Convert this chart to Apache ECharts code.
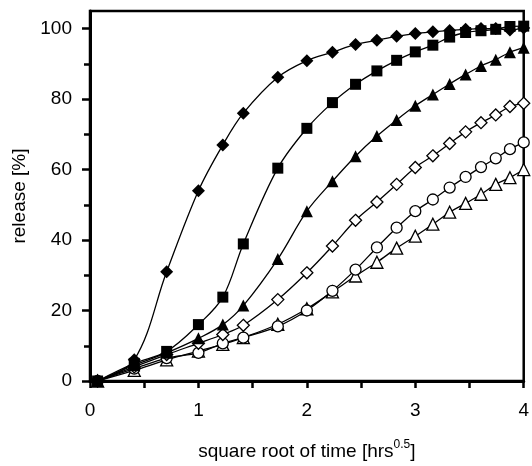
<!DOCTYPE html>
<html>
<head>
<meta charset="utf-8">
<title>release vs square root of time</title>
<script src="https://cdn.jsdelivr.net/npm/echarts@6/dist/echarts.min.js"></script>
<style>
  html, body { margin: 0; padding: 0; background: #fff; }
  #chart { width: 532px; height: 466px; }
</style>
</head>
<body>
<div id="chart"></div>
<script>
// sampling points on the square-root-of-time axis [hrs^0.5]
const sqrtTime = [0.07, 0.408, 0.707, 1.0, 1.225, 1.414, 1.732, 2.0, 2.236, 2.449,
                  2.646, 2.828, 3.0, 3.162, 3.317, 3.464, 3.606, 3.742, 3.873, 4.0];

// cumulative release [%] for each formulation
const filledDiamond = [0, 6, 31, 54, 67, 76, 86.2, 90.9, 93.3, 95.5,
                       96.7, 97.8, 98.6, 99.1, 99.5, 99.8, 100, 100, 99.6, 100.2];
const filledSquare  = [0, 5, 8.4, 16, 23.8, 38.9, 60.4, 71.7, 79, 84.2,
                       88, 91, 93.4, 95.3, 97.6, 98.9, 99.4, 99.8, 100.6, 100.7];
const filledTriangle = [0, 4.5, 8, 12.1, 16, 21.4, 34.6, 48.2, 56.7, 63.8,
                        69.5, 74.1, 78.1, 81.3, 84.3, 87, 89.4, 91.2, 93.3, 94.6];
const openDiamond   = [0, 4, 7.5, 10.7, 13.2, 15.8, 23.1, 30.7, 38.3, 45.6,
                       50.8, 55.8, 60.6, 63.9, 67.4, 70.7, 73.3, 75.5, 77.9, 78.8];
const openCircle    = [0, 3.5, 6.5, 8, 10.7, 12.3, 15.5, 20, 25.6, 31.6,
                       37.9, 43.5, 48.2, 51.5, 54.9, 57.9, 60.7, 63.2, 65.8, 67.7];
const openTriangle  = [0, 3, 6, 8.5, 10.4, 12.3, 16.1, 20.5, 25.3, 29.8,
                       33.7, 37.7, 41.1, 44.5, 47.9, 50.4, 53, 55.8, 57.7, 60];

// axis ticks and labels
const xLabels = [0, 1, 2, 3, 4];
const xTicks = [0, 0.5, 1, 1.5, 2, 2.5, 3, 3.5, 4];
const yLabels = [0, 20, 40, 60, 80, 100];
const yMinorTicks = [10, 30, 50, 70, 90];

const FONT = '"Liberation Sans", Arial, Helvetica, sans-serif';

function pairs(ys) {
  return sqrtTime.map((x, i) => [x, ys[i]]);
}

function makeSeries(ys, symbol, size, filled, z) {
  return {
    type: 'line',
    data: pairs(ys),
    smooth: 0.35,
    symbol: symbol,
    symbolSize: size,
    showAllSymbol: true,
    z: z,
    lineStyle: { color: '#000', width: 1.3 },
    itemStyle: {
      color: filled ? '#000' : '#fff',
      borderColor: '#000',
      borderWidth: filled ? 0 : 1.3
    },
    emphasis: { disabled: true },
    animation: false
  };
}

const chart = echarts.init(document.getElementById('chart'), null, { renderer: 'canvas' });

chart.setOption({
  animation: false,
  backgroundColor: '#fff',
  grid: {
    left: 90, right: 3.5, top: 11, bottom: 79.3,
    show: true, borderColor: '#000', borderWidth: 2.5,
    containLabel: false
  },
  xAxis: {
    type: 'value',
    min: 0, max: 4, interval: 1,
    name: '{t|square root of time [hrs}{s|0.5}{t|]}',
    nameLocation: 'middle',
    nameGap: 58,
    nameTextStyle: {
      rich: {
        t: { fontFamily: FONT, fontSize: 19, color: '#000', verticalAlign: 'bottom' },
        s: { fontFamily: FONT, fontSize: 12, color: '#000', verticalAlign: 'top', padding: [0, 0, 10, 0] }
      }
    },
    axisLine: { show: true, onZero: false, lineStyle: { color: '#000', width: 3 } },
    axisTick: { show: true, inside: false, length: 7, customValues: xTicks,
                lineStyle: { color: '#000', width: 2.5 } },
    axisLabel: { customValues: xLabels, margin: 20, fontFamily: FONT, fontSize: 19, color: '#000' },
    splitLine: { show: false }
  },
  yAxis: [
    {
      type: 'value',
      min: 0, max: 105, interval: 20,
      name: 'release [%]',
      nameLocation: 'middle',
      nameGap: 55,
      nameRotate: 90,
      nameTextStyle: { fontFamily: FONT, fontSize: 19, color: '#000' },
      axisLine: { show: true, onZero: false, lineStyle: { color: '#000', width: 3 } },
      axisTick: { show: true, inside: false, length: 8, customValues: yLabels,
                  lineStyle: { color: '#000', width: 2.5 } },
      axisLabel: { customValues: yLabels, margin: 18, fontFamily: FONT, fontSize: 19, color: '#000' },
      splitLine: { show: false }
    },
    {
      type: 'value',
      position: 'left',
      min: 0, max: 105, interval: 20,
      axisLine: { show: false },
      axisTick: { show: true, inside: false, length: 6, customValues: yMinorTicks,
                  lineStyle: { color: '#000', width: 2.5 } },
      axisLabel: { show: false },
      splitLine: { show: false }
    }
  ],
  series: [
    makeSeries(openTriangle, 'triangle', 12, false, 2),
    makeSeries(openCircle, 'circle', 11, false, 3),
    makeSeries(openDiamond, 'diamond', 12, false, 4),
    makeSeries(filledTriangle, 'triangle', 12, true, 5),
    makeSeries(filledSquare, 'rect', 11, true, 6),
    makeSeries(filledDiamond, 'diamond', 13, true, 7)
  ]
});
</script>
</body>
</html>
